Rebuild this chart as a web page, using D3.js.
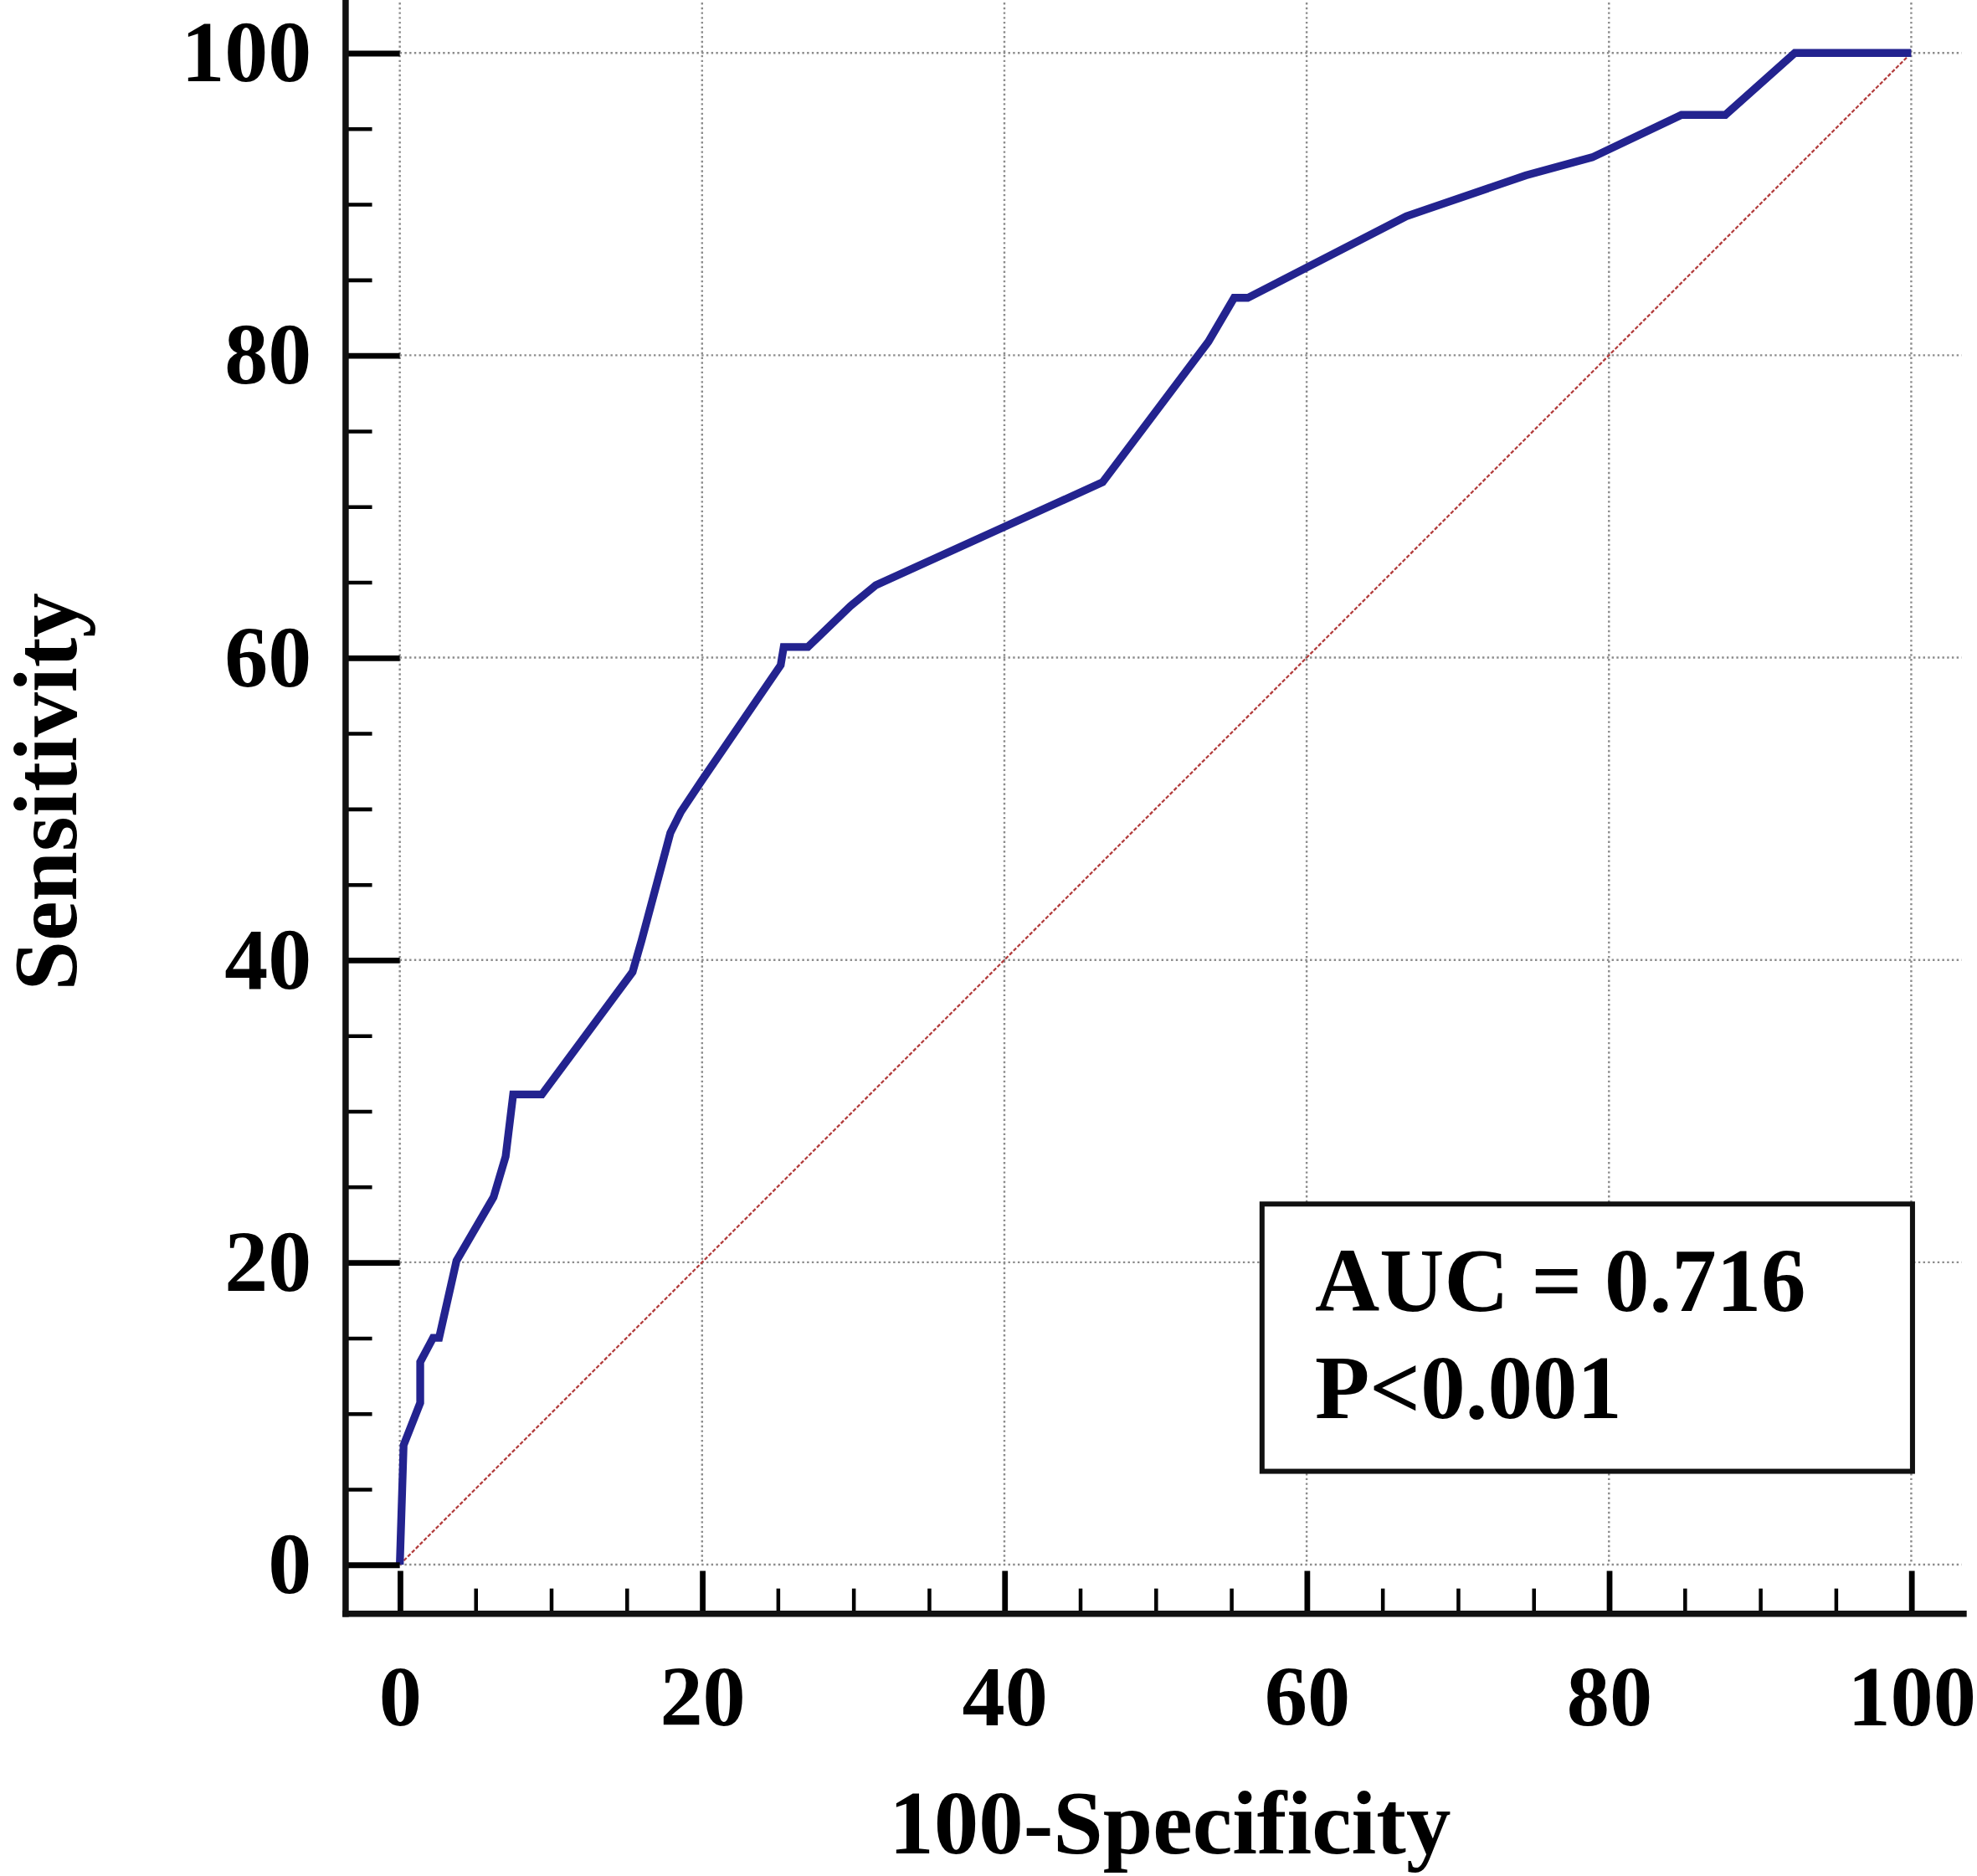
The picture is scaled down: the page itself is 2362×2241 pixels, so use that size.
<!DOCTYPE html>
<html lang="en">
<head>
<meta charset="UTF-8">
<title>ROC curve</title>
<script src="https://d3js.org/d3.v7.min.js"></script>
<style>
  body { margin: 0; background: #fff; }
  text { font-family: "Liberation Serif", "Times New Roman", serif; font-weight: bold; fill: #000; }
</style>
</head>
<body>
<svg id="chart" width="2362" height="2241" viewBox="0 0 1568 1488"></svg>
<script>
  // ROC points (100-Specificity, Sensitivity)
  var fpr = [0, 0.25, 1.35, 1.35, 2.2, 2.6, 3.75, 6.2, 7.0, 7.5, 9.4, 15.4, 16.0, 17.9, 18.6, 20.0,
             25.2, 25.4, 27.0, 29.8, 31.5, 46.5, 53.5, 55.2, 56.1, 60.0, 66.6, 74.5, 78.9, 84.8, 87.7, 92.3, 100];
  var tpr = [0, 7.9, 10.7, 13.4, 15.0, 15.0, 20.1, 24.3, 27.0, 31.1, 31.1, 39.2, 41.3, 48.4, 49.8, 51.9,
             59.5, 60.7, 60.7, 63.4, 64.8, 71.6, 80.9, 83.8, 83.8, 85.8, 89.2, 91.9, 93.1, 95.9, 95.9, 100, 100];
  var majorTicks = [0, 20, 40, 60, 80, 100];
  var minorTicks = d3.range(0, 101, 5).filter(function (d) { return d % 20 !== 0; });
  var aucText = "AUC = 0.716";
  var pText = "P<0.001";

  var svg = d3.select("#chart");

  var x = d3.scaleLinear().domain([0, 100]).range([317, 1516]);
  var y = d3.scaleLinear().domain([0, 100]).range([1241, 42]);

  var axisX = 274, axisY = 1280;

  // dotted grid
  var grid = svg.append("g")
    .attr("stroke", "#8c8c8c")
    .attr("stroke-width", 1.6)
    .attr("stroke-dasharray", "1.6,2.2");
  grid.selectAll(".vg").data(majorTicks).enter().append("line")
    .attr("x1", function (d) { return x(d); })
    .attr("x2", function (d) { return x(d); })
    .attr("y1", 2)
    .attr("y2", y(0));
  grid.selectAll(".hg").data(majorTicks).enter().append("line")
    .attr("x1", x(0))
    .attr("x2", 1556)
    .attr("y1", function (d) { return y(d); })
    .attr("y2", function (d) { return y(d); });

  // reference diagonal
  svg.append("line")
    .attr("x1", x(0)).attr("y1", y(0))
    .attr("x2", x(100)).attr("y2", y(100))
    .attr("stroke", "#b23a3a")
    .attr("stroke-width", 1.5)
    .attr("stroke-dasharray", "3,1.5");

  // ROC curve
  var pts = fpr.map(function (d, i) { return [d, tpr[i]]; });
  svg.append("path")
    .datum(pts)
    .attr("fill", "none")
    .attr("stroke", "#23238f")
    .attr("stroke-width", 6.2)
    .attr("stroke-linejoin", "miter")
    .attr("d", d3.line()
      .x(function (d) { return x(d[0]); })
      .y(function (d) { return y(d[1]); }));

  // y axis: major ticks with labels, then minor ticks
  var gy = svg.append("g").attr("transform", "translate(" + axisX + ",0)");
  gy.call(d3.axisLeft(y).tickValues(majorTicks).tickSize(-(x(0) - axisX)).tickPadding(27));
  gy.selectAll(".tick line").attr("stroke", "#000").attr("stroke-width", 4.5);
  gy.selectAll(".tick text").attr("font-size", 69).attr("font-family", null);

  var gy2 = svg.append("g").attr("transform", "translate(" + axisX + ",0)");
  gy2.call(d3.axisLeft(y).tickValues(minorTicks).tickSize(-21).tickFormat(""));
  gy2.selectAll(".tick line").attr("stroke", "#000").attr("stroke-width", 3);
  svg.selectAll(".domain").remove();

  // x axis: major ticks with labels, then minor ticks
  var gx = svg.append("g").attr("transform", "translate(0," + axisY + ")");
  gx.call(d3.axisBottom(x).tickValues(majorTicks).tickSize(-34).tickPadding(40));
  gx.selectAll(".tick line").attr("stroke", "#000").attr("stroke-width", 4.5);
  gx.selectAll(".tick text").attr("font-size", 68).attr("font-family", null);

  var gx2 = svg.append("g").attr("transform", "translate(0," + axisY + ")");
  gx2.call(d3.axisBottom(x).tickValues(minorTicks).tickSize(-20).tickFormat(""));
  gx2.selectAll(".tick line").attr("stroke", "#000").attr("stroke-width", 3);
  svg.selectAll(".domain").remove();

  // axis lines
  svg.append("line")
    .attr("x1", axisX).attr("x2", axisX)
    .attr("y1", 0).attr("y2", axisY + 2.5)
    .attr("stroke", "#111").attr("stroke-width", 5);
  svg.append("line")
    .attr("x1", axisX - 2.5).attr("x2", 1560)
    .attr("y1", axisY).attr("y2", axisY)
    .attr("stroke", "#111").attr("stroke-width", 5);

  // axis titles
  svg.append("text")
    .attr("x", 928).attr("y", 1470)
    .attr("text-anchor", "middle")
    .attr("font-size", 71)
    .text("100-Specificity");
  svg.append("text")
    .attr("transform", "translate(60,628) rotate(-90)")
    .attr("text-anchor", "middle")
    .attr("font-size", 71)
    .text("Sensitivity");

  // AUC box
  svg.append("rect")
    .attr("x", 1001).attr("y", 955)
    .attr("width", 516).attr("height", 212)
    .attr("fill", "#fff")
    .attr("stroke", "#111")
    .attr("stroke-width", 4);
  svg.append("text")
    .attr("x", 1043).attr("y", 1040)
    .attr("font-size", 71)
    .text(aucText);
  svg.append("text")
    .attr("x", 1043).attr("y", 1125)
    .attr("font-size", 71)
    .text(pText);
</script>
</body>
</html>
